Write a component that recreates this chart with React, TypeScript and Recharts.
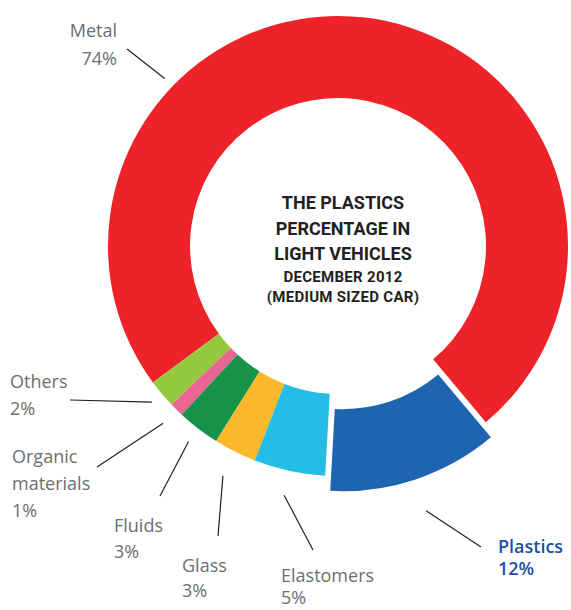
import { Cell, Pie, PieChart } from "recharts";

const categories = ["Metal", "Others", "Organic materials", "Fluids", "Glass", "Elastomers", "Plastics"];
const shares = [74, 2, 1, 3, 3, 5, 12];
const labelLines = [["Metal"], ["Others"], ["Organic", "materials"], ["Fluids"], ["Glass"], ["Elastomers"], ["Plastics"]];
const colors = ["#ee2229", "#95c93d", "#eb6593", "#17924a", "#fbb82a", "#23bde6", "#1f64b0"];

const titleLines = ["THE PLASTICS", "PERCENTAGE IN", "LIGHT VEHICLES"];
const subtitleLines = ["DECEMBER 2012", "(MEDIUM SIZED CAR)"];

const data = categories.map((name, i) => ({ name, value: shares[i] }));

const CX = 338;
const CY = 246;
const INNER = 148;
const OUTER = 230;
const EXPLODED = "Plastics";
const EXPLODE = 16;
const RAD = Math.PI / 180;

// where each callout goes, relative to the pie centre
const placement: Record<string, { gap: number; angle?: number; end: [number, number]; text: [number, number]; align: "start" | "end"; lh: number }> = {
  Metal: { gap: 11, angle: 136, end: [-211, -197], text: [-221, -209], align: "end", lh: 28 },
  Others: { gap: 13, end: [-268, 154], text: [-328, 142], align: "start", lh: 27 },
  "Organic materials": { gap: 19, end: [-241, 221], text: [-326, 217], align: "start", lh: 27 },
  Fluids: { gap: 16, end: [-178, 250], text: [-224, 286], align: "start", lh: 26 },
  Glass: { gap: 27, end: [-120, 290], text: [-156, 326], align: "start", lh: 25 },
  Elastomers: { gap: 25, end: [-25, 304], text: [-57, 336], align: "start", lh: 22 },
  Plastics: { gap: 33, end: [143, 301], text: [160, 307], align: "start", lh: 22 },
};

const polar = (cx: number, cy: number, r: number, a: number) => [cx + r * Math.cos(-a * RAD), cy + r * Math.sin(-a * RAD)];

function Callout(props: any) {
  const { cx, cy, midAngle, outerRadius, index } = props;
  const name = categories[index];
  const p = placement[name];
  const isBlue = name === EXPLODED;
  const angle = p.angle ?? midAngle;
  const r = outerRadius + p.gap + (isBlue ? EXPLODE : 0);
  const [x1, y1] = polar(cx, cy, r, angle);
  const lines = [...labelLines[index], `${shares[index]}%`];
  return (
    <g>
      <line x1={x1} y1={y1} x2={cx + p.end[0]} y2={cy + p.end[1]} stroke="#231f20" strokeWidth={1.2} />
      {lines.map((t, k) => (
        <text
          key={k}
          x={cx + p.text[0]}
          y={cy + p.text[1] + k * p.lh}
          textAnchor={p.align}
          fontFamily="'Open Sans', sans-serif"
          fontSize={18}
          fontWeight={isBlue ? 600 : 400}
          fill={isBlue ? "#1f4f9f" : "#6d6e71"}
        >
          {t}
        </text>
      ))}
    </g>
  );
}

export default function App() {
  const blueIdx = categories.indexOf(EXPLODED);
  const mid = -50 + (shares.slice(0, blueIdx).reduce((a, b) => a + b, 0) + shares[blueIdx] / 2) * 3.6;
  const [bx, by] = polar(CX, CY, EXPLODE, mid);

  return (
    <div style={{ width: 571, height: 610 }}>
      <style>{"body{margin:0}"}</style>
      <PieChart width={571} height={610} margin={{ top: 0, right: 0, bottom: 0, left: 0 }}>
        <Pie
          data={data}
          dataKey="value"
          nameKey="name"
          cx={CX}
          cy={CY}
          innerRadius={INNER}
          outerRadius={OUTER}
          startAngle={-50}
          endAngle={310}
          stroke="none"
          labelLine={false}
          label={Callout}
          isAnimationActive={false}
        >
          {data.map((d, i) => (
            <Cell key={d.name} fill={d.name === EXPLODED ? "transparent" : colors[i]} stroke="none" />
          ))}
        </Pie>
        <Pie
          data={data}
          dataKey="value"
          nameKey="name"
          cx={bx}
          cy={by}
          innerRadius={INNER}
          outerRadius={OUTER}
          startAngle={-50}
          endAngle={310}
          stroke="none"
          isAnimationActive={false}
        >
          {data.map((d, i) => (
            <Cell key={d.name} fill={d.name === EXPLODED ? colors[i] : "transparent"} stroke="none" />
          ))}
        </Pie>
        <text textAnchor="middle" fontFamily="Roboto, sans-serif" fontWeight={700} fill="#231f20">
          {titleLines.map((t, k) => (
            <tspan key={t} x={CX + 5} y={CY - 37 + k * 25.5} fontSize={18}>
              {t}
            </tspan>
          ))}
          {subtitleLines.map((t, k) => (
            <tspan key={t} x={CX + 5} y={CY + 36 + k * 20} fontSize={15} letterSpacing={0.3}>
              {t}
            </tspan>
          ))}
        </text>
      </PieChart>
    </div>
  );
}
